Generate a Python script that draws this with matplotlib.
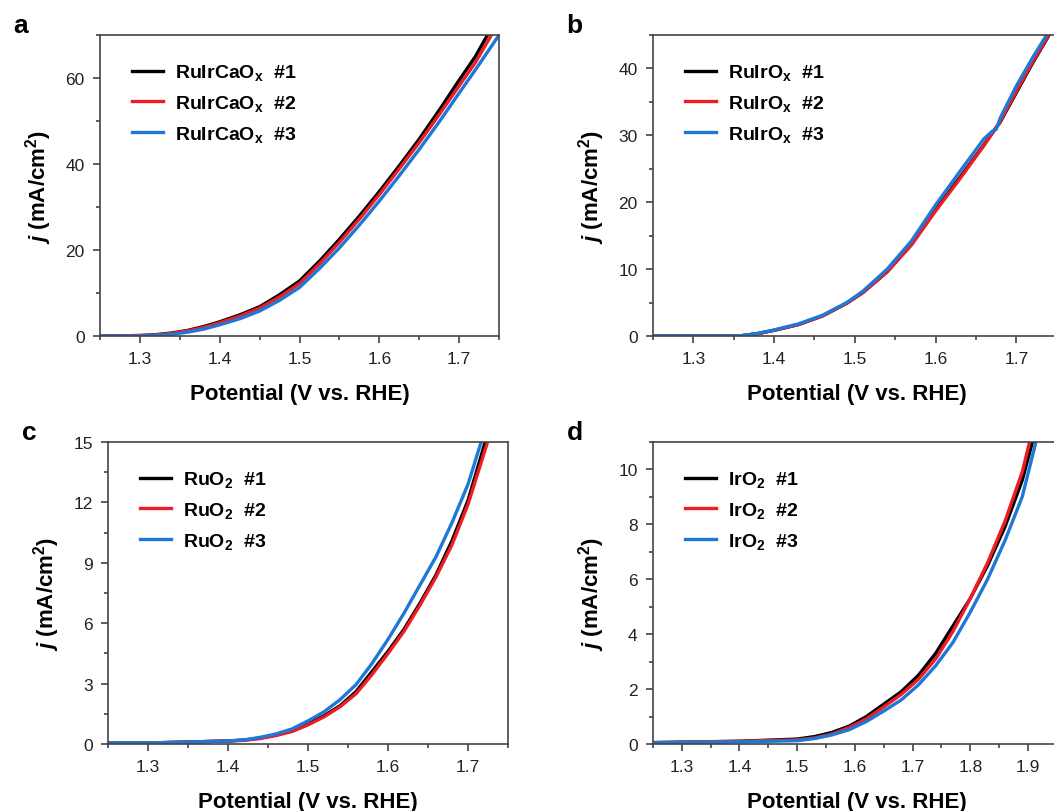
import matplotlib
matplotlib.use('Agg')
import matplotlib.pyplot as plt
from matplotlib.ticker import MultipleLocator

plt.rcParams['font.family'] = ['Liberation Sans', 'DejaVu Sans']
plt.rcParams['mathtext.fontset'] = 'custom'
plt.rcParams['mathtext.rm'] = 'Liberation Sans:bold'
plt.rcParams['mathtext.bf'] = 'Liberation Sans:bold'
plt.rcParams['mathtext.it'] = 'Liberation Sans:italic:bold'

# colours of the three repeat runs
colors = ['#000000', '#ee1c24', '#1e78d8']

# ---- panel a : RuIrCaOx ----
a_v1 = [1.25, 1.30, 1.32, 1.34, 1.36, 1.38, 1.40, 1.425, 1.45, 1.475, 1.50, 1.525, 1.55,
        1.575, 1.60, 1.625, 1.65, 1.675, 1.70, 1.72, 1.737]
a_j1 = [0.0, 0.1, 0.3, 0.7, 1.3, 2.2, 3.3, 4.9, 6.8, 9.6, 12.8, 17.4, 22.5,
        27.9, 33.6, 39.6, 45.8, 52.5, 59.5, 64.9, 70.5]
a_v2 = [1.25, 1.30, 1.32, 1.34, 1.36, 1.38, 1.40, 1.425, 1.45, 1.475, 1.50, 1.525, 1.55,
        1.575, 1.60, 1.625, 1.65, 1.675, 1.70, 1.72, 1.742]
a_j2 = [0.0, 0.1, 0.25, 0.6, 1.2, 2.0, 3.1, 4.6, 6.5, 9.1, 12.2, 16.8, 21.8,
        27.2, 32.9, 38.9, 45.0, 51.5, 58.2, 63.5, 70.5]
a_v3 = [1.25, 1.30, 1.32, 1.34, 1.36, 1.38, 1.40, 1.425, 1.45, 1.475, 1.50, 1.525, 1.55,
        1.575, 1.60, 1.625, 1.65, 1.675, 1.70, 1.72, 1.75]
a_j3 = [0.0, 0.0, 0.15, 0.4, 0.9, 1.6, 2.6, 4.0, 5.8, 8.3, 11.3, 15.7, 20.5,
        25.8, 31.4, 37.3, 43.4, 49.8, 56.5, 61.8, 70.0]

# ---- panel b : RuIrOx ----
b_v1 = [1.25, 1.35, 1.36, 1.38, 1.40, 1.43, 1.46, 1.49, 1.51, 1.54, 1.57, 1.60, 1.63,
        1.66, 1.68, 1.70, 1.72, 1.742]
b_j1 = [0.0, 0.0, 0.05, 0.35, 0.85, 1.7, 3.0, 4.9, 6.5, 9.6, 13.7, 18.9, 23.7,
        28.6, 32.0, 36.4, 40.8, 45.3]
b_v2 = [1.25, 1.35, 1.36, 1.38, 1.40, 1.43, 1.46, 1.49, 1.51, 1.54, 1.57, 1.60, 1.63,
        1.66, 1.68, 1.70, 1.72, 1.742]
b_j2 = [0.0, 0.0, 0.05, 0.35, 0.85, 1.7, 3.0, 4.9, 6.5, 9.6, 13.6, 18.7, 23.5,
        28.5, 32.1, 36.6, 41.0, 45.4]
b_v3 = [1.25, 1.35, 1.36, 1.38, 1.40, 1.43, 1.46, 1.49, 1.51, 1.54, 1.57, 1.60, 1.63,
        1.66, 1.67, 1.675, 1.68, 1.70, 1.72, 1.739]
b_j3 = [0.0, 0.0, 0.05, 0.4, 0.9, 1.8, 3.1, 5.0, 6.7, 10.0, 14.2, 19.6, 24.6,
        29.5, 30.6, 30.9, 32.6, 37.4, 41.6, 45.3]

# ---- panel c : RuO2 ----
c_v1 = [1.25, 1.30, 1.35, 1.40, 1.42, 1.44, 1.46, 1.48, 1.50, 1.52, 1.54, 1.56, 1.58,
        1.60, 1.62, 1.64, 1.66, 1.68, 1.70, 1.723]
c_j1 = [0.05, 0.05, 0.1, 0.15, 0.2, 0.3, 0.45, 0.65, 1.0, 1.4, 1.9, 2.6, 3.6,
        4.6, 5.7, 7.0, 8.4, 10.1, 12.1, 15.2]
c_v2 = [1.25, 1.30, 1.35, 1.40, 1.42, 1.44, 1.46, 1.48, 1.50, 1.52, 1.54, 1.56, 1.58,
        1.60, 1.62, 1.64, 1.66, 1.68, 1.70, 1.726]
c_j2 = [0.05, 0.05, 0.1, 0.15, 0.18, 0.27, 0.42, 0.62, 0.95, 1.35, 1.85, 2.5, 3.45,
        4.5, 5.6, 6.9, 8.3, 9.9, 11.9, 15.2]
c_v3 = [1.25, 1.30, 1.35, 1.40, 1.42, 1.44, 1.46, 1.48, 1.50, 1.52, 1.54, 1.56, 1.58,
        1.60, 1.62, 1.64, 1.66, 1.68, 1.70, 1.718]
c_j3 = [0.05, 0.05, 0.1, 0.15, 0.2, 0.33, 0.5, 0.75, 1.15, 1.6, 2.2, 2.95, 4.0,
        5.2, 6.5, 7.9, 9.3, 11.0, 12.9, 15.2]

# ---- panel d : IrO2 ----
d_v1 = [1.25, 1.40, 1.50, 1.53, 1.56, 1.59, 1.62, 1.65, 1.68, 1.71, 1.74, 1.77, 1.80,
        1.83, 1.86, 1.89, 1.909]
d_j1 = [0.05, 0.1, 0.18, 0.27, 0.42, 0.65, 1.0, 1.45, 1.9, 2.5, 3.3, 4.3, 5.3,
        6.5, 7.9, 9.6, 11.1]
d_v2 = [1.25, 1.40, 1.50, 1.53, 1.56, 1.59, 1.62, 1.65, 1.68, 1.71, 1.74, 1.77, 1.80,
        1.83, 1.86, 1.89, 1.904]
d_j2 = [0.05, 0.1, 0.15, 0.22, 0.36, 0.6, 0.92, 1.35, 1.8, 2.35, 3.1, 4.1, 5.3,
        6.6, 8.1, 9.9, 11.1]
d_v3 = [1.25, 1.40, 1.50, 1.53, 1.56, 1.59, 1.62, 1.65, 1.68, 1.71, 1.74, 1.77, 1.80,
        1.83, 1.86, 1.89, 1.915]
d_j3 = [0.05, 0.08, 0.12, 0.2, 0.33, 0.52, 0.82, 1.2, 1.6, 2.15, 2.85, 3.7, 4.8,
        6.0, 7.4, 9.0, 11.1]

panels = [
    dict(tag='a', name='RuIrCaO$_\\mathrm{x}$', pos=[0.0949, 0.585, 0.3786, 0.3707],
         curves=[(a_v1, a_j1), (a_v2, a_j2), (a_v3, a_j3)],
         xlim=(1.25, 1.75), ylim=(0, 70), ymaj=20, ymin=10, xmaj=0.1),
    dict(tag='b', name='RuIrO$_\\mathrm{x}$', pos=[0.6195, 0.585, 0.3870, 0.3707],
         curves=[(b_v1, b_j1), (b_v2, b_j2), (b_v3, b_j3)],
         xlim=(1.25, 1.755), ylim=(0, 45), ymaj=10, ymin=5, xmaj=0.1),
    dict(tag='c', name='RuO$_\\mathrm{2}$', pos=[0.1025, 0.0825, 0.3795, 0.372],
         curves=[(c_v1, c_j1), (c_v2, c_j2), (c_v3, c_j3)],
         xlim=(1.25, 1.75), ylim=(0, 15), ymaj=3, ymin=1.5, xmaj=0.1),
    dict(tag='d', name='IrO$_\\mathrm{2}$', pos=[0.6195, 0.0825, 0.3870, 0.372],
         curves=[(d_v1, d_j1), (d_v2, d_j2), (d_v3, d_j3)],
         xlim=(1.25, 1.957), ylim=(0, 11), ymaj=2, ymin=1, xmaj=0.1),
]

fig = plt.figure(figsize=(10.54, 8.12), dpi=100)

for p in panels:
    ax = fig.add_axes(p['pos'])
    for k, (v, j) in enumerate(p['curves']):
        ax.plot(v, j, color=colors[k], lw=2.4, label=f"{p['name']}  #{k + 1}")
    ax.set_xlim(*p['xlim'])
    ax.set_ylim(*p['ylim'])
    ax.xaxis.set_major_locator(MultipleLocator(p['xmaj']))
    ax.xaxis.set_minor_locator(MultipleLocator(p['xmaj'] / 2))
    ax.yaxis.set_major_locator(MultipleLocator(p['ymaj']))
    ax.yaxis.set_minor_locator(MultipleLocator(p['ymin']))
    ax.tick_params(which='both', direction='out', top=False, right=False,
                   labelsize=12.5, color='#333333', labelcolor='#222222', width=1.1)
    ax.tick_params(which='major', length=5, pad=6)
    ax.tick_params(which='minor', length=3)
    for s in ax.spines.values():
        s.set_color('#444444')
        s.set_linewidth(1.2)
    ax.set_xlabel('Potential (V vs. RHE)', fontsize=16, fontweight='bold', labelpad=12)
    ax.set_ylabel('$j$ (mA/cm$^2$)', fontsize=16, fontweight='bold', labelpad=8)
    ax.legend(loc='upper left', frameon=False, prop={'weight': 'bold', 'size': 14},
              handlelength=1.6, handletextpad=0.6, labelspacing=0.55,
              borderaxespad=0.0, bbox_to_anchor=(0.06, 0.935))
    x0 = p['pos'][0] - 0.082
    y0 = p['pos'][1] + p['pos'][3] + 0.004
    fig.text(x0, y0, p['tag'], fontsize=19, fontweight='bold', va='baseline')

fig.savefig('out.png', dpi=100)
